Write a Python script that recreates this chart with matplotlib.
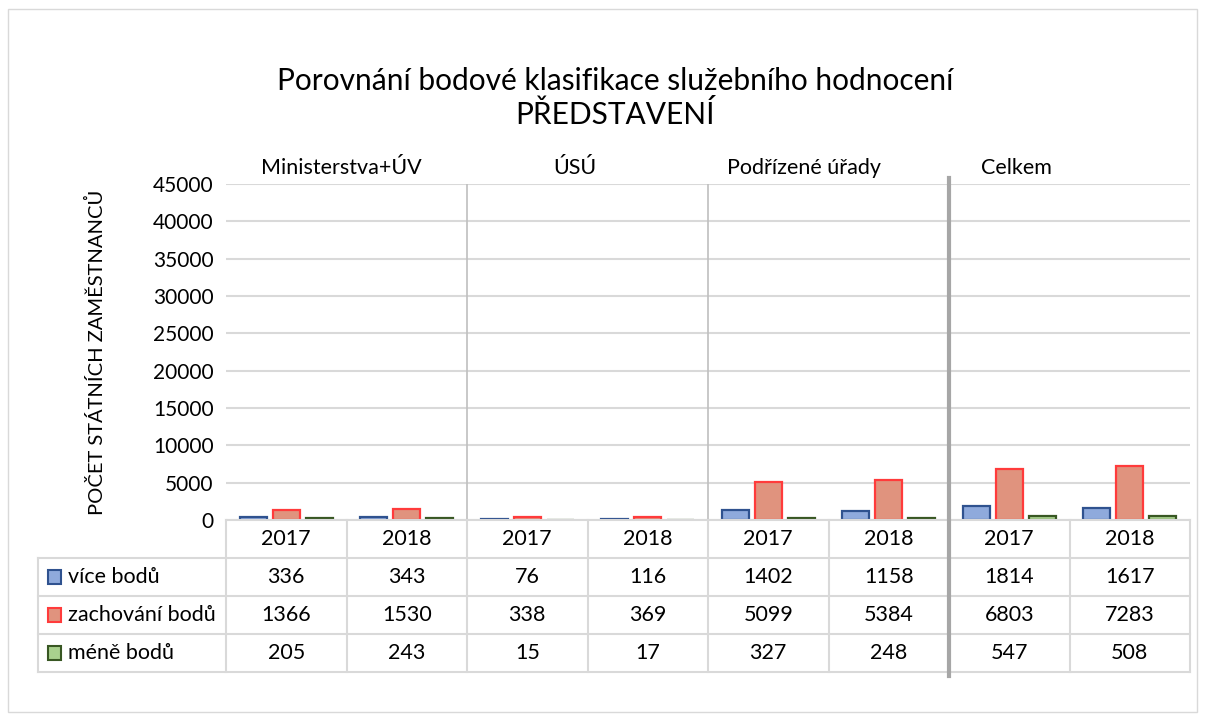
import matplotlib
matplotlib.use("Agg")
import matplotlib.pyplot as plt
import matplotlib.transforms as mtransforms
from matplotlib.patches import Rectangle
from matplotlib.lines import Line2D
import numpy as np

plt.rcParams['font.family'] = ['Lato', 'DejaVu Sans']

# data
groups = ["Ministerstva+ÚV", "ÚSÚ", "Podřízené úřady", "Celkem"]
years = ["2017", "2018", "2017", "2018", "2017", "2018", "2017", "2018"]
series_names = ["více bodů", "zachování bodů", "méně bodů"]
vice = [336, 343, 76, 116, 1402, 1158, 1814, 1617]
zachovani = [1366, 1530, 338, 369, 5099, 5384, 6803, 7283]
mene = [205, 243, 15, 17, 327, 248, 547, 508]
yticks = [0, 5000, 10000, 15000, 20000, 25000, 30000, 35000, 40000, 45000]

series = [vice, zachovani, mene]
fills = ["#8FAADC", "#E0937E", "#A9D18E"]
edges = ["#2F528F", "#FF3B3B", "#385723"]

W, H = 1206, 720
FS = 15.5


def px(l, t, r, b):
    return [l / W, 1 - b / H, (r - l) / W, (b - t) / H]


fig = plt.figure(figsize=(W / 100, H / 100), dpi=100)
fig.patches.append(Rectangle((8 / W, 8 / H), 1189 / W, 703 / H, transform=fig.transFigure,
                             fill=False, edgecolor="#D9D9D9", lw=1))

# main plot
ax = fig.add_axes(px(226, 184, 1190, 520))
n = len(years)
x = np.arange(n) + 0.5
width = 0.225
offsets = [-0.275, 0, 0.275]
for vals, off, fc, ec in zip(series, offsets, fills, edges):
    ax.bar(x + off, vals, width, color=fc, edgecolor=ec, linewidth=1.6, zorder=3)

ax.set_xlim(0, n)
ax.set_ylim(0, 45000)
ax.set_yticks(yticks)
ax.set_yticklabels([str(v) for v in yticks], fontsize=15)
ax.tick_params(axis="y", length=0, pad=9)
ax.set_xticks([])
ax.yaxis.grid(True, color="#D9D9D9", lw=1.5, zorder=0)
for s in ax.spines.values():
    s.set_visible(False)
ax.set_ylabel("POČET STÁTNÍCH ZAMĚSTNANCŮ", fontsize=14.5, labelpad=34)

# group separators
for gx in [2, 4]:
    ax.axvline(gx, color="#BFBFBF", lw=1.2, zorder=2)
blend = mtransforms.blended_transform_factory(ax.transData, fig.transFigure)
fig.lines.append(Line2D([6, 6], [1 - 178 / H, 1 - 676 / H], transform=blend,
                        color="#A6A6A6", lw=3, zorder=5))

# group labels
label_x = [0.954, 2.896, 4.797, 6.556]
for lx, g in zip(label_x, groups):
    ax.text(lx, 1.048, g, transform=ax.get_xaxis_transform(), ha="center",
            va="center", fontsize=FS)

# data table
tax = fig.add_axes(px(38, 520, 1190, 672))
xmin = -188 / 120.5
tax.set_xlim(xmin, n)
tax.set_ylim(4, 0)
tax.axis("off")
gc = "#D9D9D9"
tax.plot([0, n], [0, 0], color=gc, lw=1.5, clip_on=False)
for r in [1, 2, 3, 4]:
    tax.plot([xmin, n], [r, r], color=gc, lw=1.5, clip_on=False)
tax.plot([xmin, xmin], [1, 4], color=gc, lw=1.5, clip_on=False)
for c in range(n + 1):
    if c != 6:
        tax.plot([c, c], [0, 4], color=gc, lw=1.5, clip_on=False)

for i, yr in enumerate(years):
    tax.text(i + 0.5, 0.5, yr, ha="center", va="center", fontsize=FS)

for r, (name, vals, fc, ec) in enumerate(zip(series_names, series, fills, edges), start=1):
    tax.add_patch(Rectangle((xmin + 0.08, r + 0.32), 0.115, 0.36, facecolor=fc,
                            edgecolor=ec, lw=1.5, clip_on=False))
    tax.text(xmin + 0.25, r + 0.5, name, ha="left", va="center", fontsize=FS)
    for i, v in enumerate(vals):
        tax.text(i + 0.5, r + 0.5, str(v), ha="center", va="center", fontsize=FS)

fig.text(615 / W, 1 - 98 / H, "Porovnání bodové klasifikace služebního hodnocení\nPŘEDSTAVENÍ",
         ha="center", va="center", fontsize=21.5, linespacing=1.2)

fig.savefig("out.png", dpi=100)
